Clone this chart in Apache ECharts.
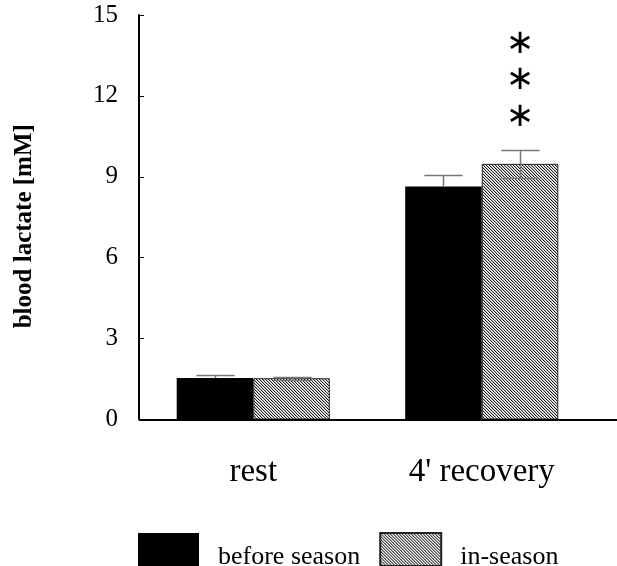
<!DOCTYPE html>
<html><head><meta charset="utf-8">
<script src="https://cdn.jsdelivr.net/npm/echarts@6/dist/echarts.min.js"></script>
<style>html,body{margin:0;padding:0;background:#fff}#c{width:617px;height:566px}</style>
</head><body><div id="c"></div>
<script>
const categories = ['rest', "4' recovery"];
const seriesNames = ['before season', 'in-season'];
const beforeSeason = [1.54, 8.64];
const beforeSeasonSD = [0.10, 0.41];
const inSeason = [1.53, 9.48];
const inSeasonSD = [0.05, 0.53];
const yMin = 0, yMax = 15, yStep = 3;
const starLevels = [13.9, 12.6, 11.2];
const starCategory = 1;

const FONT = 'Liberation Serif';
const GAP = 0.33;

// hatch pattern (diagonal "\" stripes)
const P = 3;
const pat = document.createElement('canvas');
pat.width = P; pat.height = P;
const g = pat.getContext('2d');
g.fillStyle = '#fff'; g.fillRect(0, 0, P, P);
for (let i = 0; i < P; i++) {
  g.fillStyle = '#222'; g.fillRect(i, i, 1, 1);
  g.fillStyle = '#bdbdbd'; g.fillRect((i + 1) % P, i, 1, 1);
}
const hatch = { image: pat, repeat: 'repeat' };

function errRender(side, lower) {
  return function (params, api) {
    const ci = api.value(0), mean = api.value(1), sd = api.value(2);
    const band = api.size([1, 0])[0];
    const barW = band * (1 - GAP) / 2;
    const cx = Math.round(api.coord([ci, mean])[0] + side * barW / 2) + 0.5;
    const yTop = Math.round(api.coord([ci, mean + sd])[1]) + 0.5;
    const yMid = api.coord([ci, mean])[1];
    const yBot = Math.round(api.coord([ci, mean - sd])[1]) + 0.5;
    const half = barW * 0.25;
    const st = { stroke: '#777', lineWidth: 1.5 };
    const ch = [
      { type: 'line', shape: { x1: cx - half, y1: yTop, x2: cx + half, y2: yTop }, style: st },
      { type: 'line', shape: { x1: cx, y1: yTop, x2: cx, y2: lower ? yBot : yMid }, style: st }
    ];
    if (lower) ch.push({ type: 'line', shape: { x1: cx - half, y1: yBot, x2: cx + half, y2: yBot }, style: st });
    return { type: 'group', children: ch };
  };
}

function starRender(params, api) {
  const ci = api.value(0), v = api.value(1);
  const band = api.size([1, 0])[0];
  const barW = band * (1 - GAP) / 2;
  const p = api.coord([ci, v]);
  return {
    type: 'text',
    style: { text: '∗', x: p[0] + barW / 2, y: p[1], align: 'center', verticalAlign: 'middle',
      font: '34px "DejaVu Sans"', fill: '#000' }
  };
}

const chart = echarts.init(document.getElementById('c'), null, { renderer: 'canvas' });
chart.setOption({
  animation: false,
  backgroundColor: '#fff',
  grid: { left: 139, right: 21, top: 15, bottom: 146.5 },
  legend: {
    left: 138, top: 532, padding: 0, itemWidth: 61, itemHeight: 33, itemGap: 19,
    icon: 'rect',
    formatter: '{t|{name}}',
    textStyle: { fontFamily: FONT, fontSize: 26, color: '#000', padding: [0, 0, 0, 14],
      rich: { t: { fontFamily: FONT, fontSize: 26, color: '#000', padding: [16, 0, 0, 0] } } },
    data: seriesNames
  },
  xAxis: {
    type: 'category', data: categories,
    axisTick: { show: false },
    axisLine: { show: false },
    axisLabel: { fontFamily: FONT, fontSize: 33, color: '#000', margin: 36 }
  },
  yAxis: {
    type: 'value', min: yMin, max: yMax, interval: yStep,
    name: 'blood lactate [mM]', nameLocation: 'middle', nameGap: 102, nameRotate: 90,
    nameTextStyle: { fontFamily: FONT, fontSize: 25, fontWeight: 'bold', color: '#000', padding: [0, 18, 0, 0] },
    axisLine: { show: true, lineStyle: { color: '#000', width: 2 } },
    axisTick: { show: true, inside: true, length: 5, lineStyle: { color: '#000', width: 1 } },
    splitLine: { show: false },
    axisLabel: { fontFamily: FONT, fontSize: 25, color: '#000', margin: 21 }
  },
  series: [
    { name: seriesNames[0], type: 'bar', data: beforeSeason, barGap: '0%', barCategoryGap: '33%',
      itemStyle: { color: '#000' } },
    { name: seriesNames[1], type: 'bar', data: inSeason, barGap: '0%', barCategoryGap: '33%',
      itemStyle: { color: hatch, borderColor: '#222', borderWidth: 1 } },
    { type: 'custom', z: 5, renderItem: errRender(-1, false),
      data: beforeSeason.map((v, i) => [i, v, beforeSeasonSD[i]]) },
    { type: 'custom', z: 5, renderItem: errRender(1, true),
      data: inSeason.map((v, i) => [i, v, inSeasonSD[i]]) },
    { type: 'custom', z: 5, renderItem: starRender,
      data: starLevels.map(v => [starCategory, v]) }
  ]
});
// x-axis baseline, running from the y axis to the right edge as in the reference
const y0 = Math.round(chart.convertToPixel({ yAxisIndex: 0 }, 0));
const xL = chart.convertToPixel({ xAxisIndex: 0 }, 0) - chart.getModel().getComponent('xAxis', 0).axis.getBandWidth() / 2;
chart.setOption({
  graphic: [{ type: 'line', shape: { x1: xL, y1: y0, x2: 617, y2: y0 },
    style: { stroke: '#000', lineWidth: 2 }, z: 10 }]
});
</script></body></html>
